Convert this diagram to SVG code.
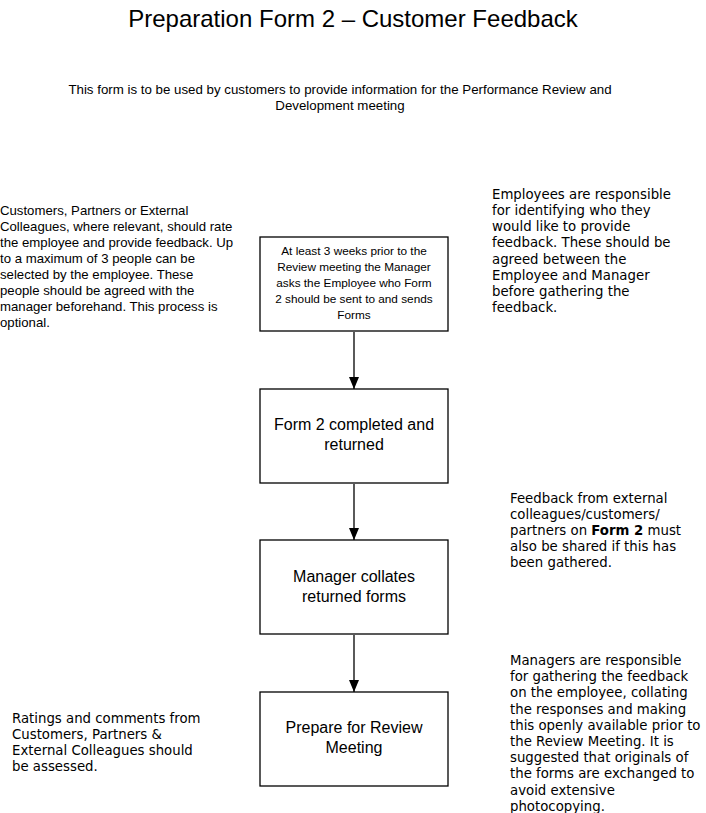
<svg xmlns="http://www.w3.org/2000/svg" width="706" height="813" viewBox="0 0 706 813">
<style>
.a{font-family:"Liberation Sans",Arial,sans-serif;fill:#000}
.v{font-family:"DejaVu Sans",Verdana,sans-serif;font-size:13.3px;fill:#000}
.box{fill:#fff;stroke:#000;stroke-width:1.3}
.c{stroke:#000;stroke-width:1.3;fill:none;marker-end:url(#ah)}
</style>
<defs>
<marker id="ah" markerWidth="12" markerHeight="10" refX="12" refY="5" orient="auto" markerUnits="userSpaceOnUse" viewBox="0 0 12 10">
<path d="M0,0 L12,5 L0,10 Z" fill="#000"/>
</marker>
</defs>
<rect width="706" height="813" fill="#fff"/>
<text class="a" x="353" y="27" font-size="24" text-anchor="middle">Preparation Form 2 – Customer Feedback</text>
<text class="a" font-size="13.3" text-anchor="middle"><tspan x="340" y="94">This form is to be used by customers to provide information for the Performance Review and</tspan><tspan x="340" y="110">Development meeting</tspan></text>

<g id="note-left-top"><text class="a" font-size="13.2"><tspan x="0" y="215">Customers, Partners or External</tspan><tspan x="0" y="231">Colleagues, where relevant, should rate</tspan><tspan x="0" y="247">the employee and provide feedback. Up</tspan><tspan x="0" y="263">to a maximum of 3 people can be</tspan><tspan x="0" y="279">selected by the employee. These</tspan><tspan x="0" y="295">people should be agreed with the</tspan><tspan x="0" y="311">manager beforehand. This process is</tspan><tspan x="0" y="327">optional.</tspan></text></g>

<g id="note-right-top"><text class="v"><tspan x="492" y="199">Employees are responsible</tspan><tspan x="492" y="215">for identifying who they</tspan><tspan x="492" y="231">would like to provide</tspan><tspan x="492" y="247">feedback. These should be</tspan><tspan x="492" y="264">agreed between the</tspan><tspan x="492" y="280">Employee and Manager</tspan><tspan x="492" y="296">before gathering the</tspan><tspan x="492" y="312">feedback.</tspan></text></g>

<g id="note-right-mid"><text class="v"><tspan x="510" y="503">Feedback from external</tspan><tspan x="510" y="519">colleagues/customers/</tspan><tspan x="510" y="535">partners on <tspan font-weight="bold">Form 2</tspan> must</tspan><tspan x="510" y="551">also be shared if this has</tspan><tspan x="510" y="567">been gathered.</tspan></text></g>

<g id="note-right-bottom"><text class="v"><tspan x="510" y="665">Managers are responsible</tspan><tspan x="510" y="681">for gathering the feedback</tspan><tspan x="510" y="697">on the employee, collating</tspan><tspan x="510" y="714">the responses and making</tspan><tspan x="510" y="730">this openly available prior to</tspan><tspan x="510" y="746">the Review Meeting. It is</tspan><tspan x="510" y="762">suggested that originals of</tspan><tspan x="510" y="778">the forms are exchanged to</tspan><tspan x="510" y="795">avoid extensive</tspan><tspan x="510" y="811">photocopying.</tspan></text></g>

<g id="note-left-bottom"><text class="v"><tspan x="12" y="723">Ratings and comments from</tspan><tspan x="12" y="739">Customers, Partners &amp;</tspan><tspan x="12" y="755">External Colleagues should</tspan><tspan x="12" y="771">be assessed.</tspan></text></g>

<g id="connectors">
<line class="c" x1="354" y1="332" x2="354" y2="389"/>
<line class="c" x1="354" y1="484" x2="354" y2="540"/>
<line class="c" x1="354" y1="635" x2="354" y2="692"/>
</g>

<g id="step1"><rect class="box" x="260" y="237" width="188" height="94"/><text class="a" font-size="11.8" text-anchor="middle"><tspan x="354" y="255">At least 3 weeks prior to the</tspan><tspan x="354" y="271">Review meeting the Manager</tspan><tspan x="354" y="287">asks the Employee who Form</tspan><tspan x="354" y="303">2 should be sent to and sends</tspan><tspan x="354" y="319">Forms</tspan></text></g>

<g id="step2"><rect class="box" x="260" y="389" width="188" height="94"/><text class="a" font-size="16" text-anchor="middle"><tspan x="354" y="430">Form 2 completed and</tspan><tspan x="354" y="450">returned</tspan></text></g>

<g id="step3"><rect class="box" x="260" y="540" width="188" height="94"/><text class="a" font-size="16" text-anchor="middle"><tspan x="354" y="582">Manager collates</tspan><tspan x="354" y="602">returned forms</tspan></text></g>

<g id="step4"><rect class="box" x="260" y="692" width="188" height="94"/><text class="a" font-size="16" text-anchor="middle"><tspan x="354" y="733">Prepare for Review</tspan><tspan x="354" y="753">Meeting</tspan></text></g>
</svg>
